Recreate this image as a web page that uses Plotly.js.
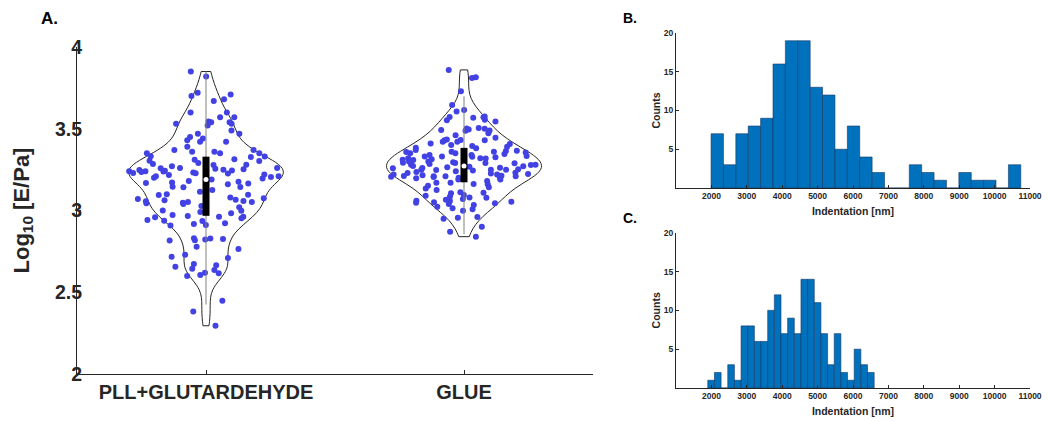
<!DOCTYPE html>
<html>
<head>
<meta charset="utf-8">
<script src="https://cdn.plot.ly/plotly-3.0.1.min.js"></script>
<style>html,body{margin:0;padding:0;background:#fff;}#chart{width:1048px;height:421px;}</style>
</head>
<body>
<div id="chart"></div>
<script>
// ---------- DATA ----------
const categories = ['PLL+GLUTARDEHYDE', 'GLUE'];

// Log10 [E/Pa] values (panel A)
const pllValues = [
  3.85, 3.82, 3.72, 3.71, 3.70, 3.68, 3.67, 3.60, 3.60, 3.57, 3.57, 3.545, 3.54, 3.54, 3.53, 3.53,
  3.52, 3.49, 3.47, 3.47, 3.45, 3.44, 3.43, 3.42, 3.42, 3.39, 3.37, 3.37, 3.36, 3.36, 3.35, 3.35, 3.35,
  3.332, 3.33, 3.327, 3.313, 3.31, 3.305, 3.303, 3.285, 3.28, 3.278,
  3.258, 3.255, 3.252, 3.25, 3.248, 3.245,
  3.243, 3.24, 3.238, 3.235, 3.232, 3.23, 3.228, 3.227,
  3.217, 3.21, 3.205, 3.2, 3.195, 3.176, 3.172, 3.168, 3.165, 3.161,
  3.146, 3.143, 3.142, 3.125, 3.115, 3.097, 3.095,
  3.075, 3.07, 3.066, 3.066, 3.062, 3.058, 3.056, 3.052, 3.052, 3.048, 3.044, 3.04,
  3.028, 3.02, 2.999, 2.991, 2.983, 2.972, 2.966, 2.962, 2.962, 2.958, 2.952,
  2.942, 2.938, 2.936, 2.922, 2.917, 2.911, 2.909,
  2.83, 2.828, 2.826, 2.822, 2.818, 2.817,
  2.779, 2.765, 2.73, 2.717, 2.709, 2.673, 2.665, 2.656, 2.644,
  2.636, 2.62, 2.616, 2.606, 2.60, 2.448, 2.383, 2.295,
  3.29, 3.27, 3.26, 3.22, 3.21, 3.19, 3.18, 3.26, 3.24, 3.10, 3.08, 3.00
];
const glueValues = [
  3.86, 3.815, 3.81, 3.73, 3.645, 3.615, 3.605,
  3.575, 3.572, 3.57, 3.568, 3.555, 3.552, 3.545,
  3.505, 3.502, 3.50, 3.495, 3.492, 3.49, 3.488, 3.472, 3.431,
  3.46, 3.445, 3.435, 3.43, 3.42,
  3.43, 3.42, 3.407, 3.40, 3.39, 3.384, 3.38, 3.41, 3.395,
  3.37, 3.366, 3.364, 3.36, 3.358, 3.354, 3.35, 3.346, 3.34, 3.333, 3.329, 3.325, 3.32, 3.318,
  3.313, 3.309, 3.30, 3.295, 3.292, 3.289, 3.284, 3.28, 3.278, 3.272, 3.268, 3.265, 3.262, 3.258, 3.25, 3.245, 3.235, 3.231,
  3.252, 3.248, 3.227, 3.223, 3.22, 3.217, 3.215, 3.213, 3.211, 3.209, 3.207, 3.205, 3.2, 3.197, 3.19,
  3.17, 3.162, 3.16, 3.152, 3.142, 3.135, 3.125, 3.111, 3.109,
  3.105, 3.095, 3.09, 3.085, 3.08, 3.078, 3.07, 3.065, 3.06, 3.058, 3.054, 3.05, 3.048, 3.044, 3.04, 3.034, 3.023, 3.013, 3.007,
  2.999, 2.955, 2.95, 2.96, 2.90, 2.87, 2.84,
  3.36, 3.35, 3.34, 3.33, 3.32, 3.31, 3.30, 3.29, 3.28, 3.27, 3.26, 3.25, 3.24, 3.23, 3.22, 3.21, 3.20, 3.19, 3.18, 3.17, 3.33, 3.29, 3.25, 3.21
];

// Histogram B (indentation, nm)
const histBStart = 1990, histBWidth = 350;
const histBCounts = [7, 3, 7, 8, 9, 16, 19, 19, 13, 12, 5, 8, 4, 2, 0, 0, 3, 2, 1, 0, 2, 1, 1, 0, 3];
// Histogram C (indentation, nm)
const histCStart = 1898, histCWidth = 188;
const histCCounts = [1, 2, 0, 3, 1, 8, 8, 6, 6, 10, 12, 7, 9, 7, 14, 14, 11, 7, 3, 7, 2, 1, 5, 3, 2];

const histTickVals = [2000, 3000, 4000, 5000, 6000, 7000, 8000, 9000, 10000, 11000];
const histTickText = ['2000', '3000', '4000', '5000', '6000', '7000', '8000', '9000', '10000', '11000'];
const countTickVals = [5, 10, 15, 20];
const logTickVals = [2, 2.5, 3, 3.5, 4];
const logTickText = ['2', '2.5', '3', '3.5', '4'];

// ---------- HELPERS ----------
function quantile(arr, p) {           // MATLAB-style quantile
  const s = arr.slice().sort((a, b) => a - b), n = s.length;
  const pos = n * p + 0.5;            // 1-based
  if (pos <= 1) return s[0];
  if (pos >= n) return s[n - 1];
  const lo = Math.floor(pos), f = pos - lo;
  return s[lo - 1] + f * (s[lo] - s[lo - 1]);
}
function stats(arr) {
  const q1 = quantile(arr, 0.25), med = quantile(arr, 0.5), q3 = quantile(arr, 0.75);
  const iqr = q3 - q1;
  const lo = Math.max(q1 - 1.5 * iqr, Math.min(...arr));
  const hi = Math.min(q3 + 1.5 * iqr, Math.max(...arr));
  return {q1, med, q3, lo, hi};
}
function centers(start, w, n) { return Array.from({length: n}, (_, i) => start + (i + 0.5) * w); }

// ---------- TRACES ----------
const FONT = 'Liberation Sans, Arial, Helvetica, sans-serif';
const TXT = '#262626';
const PT = 'rgb(66,66,228)';
const traces = [];
[pllValues, glueValues].forEach((vals, k) => {
  traces.push({
    type: 'violin', x: vals.map(() => categories[k]), y: vals, name: categories[k],
    xaxis: 'x', yaxis: 'y', points: 'all', pointpos: 0, jitter: 1,
    spanmode: 'hard', scalemode: 'width', width: 0.6, bandwidth: 0.075,
    line: {color: '#262626', width: 1}, fillcolor: 'rgba(255,255,255,0)',
    marker: {color: PT, size: 6, line: {width: 0}},
    box: {visible: false}, meanline: {visible: false}, hoverinfo: 'y'
  });
});
[pllValues, glueValues].forEach((vals, k) => {
  const s = stats(vals);
  traces.push({type: 'scatter', mode: 'lines', x: [categories[k], categories[k]], y: [s.lo, s.hi],
    xaxis: 'x', yaxis: 'y', line: {color: 'rgb(128,128,128)', width: 1}, hoverinfo: 'skip'});
  traces.push({type: 'scatter', mode: 'lines', x: [categories[k], categories[k]], y: [s.q1, s.q3],
    xaxis: 'x', yaxis: 'y', line: {color: '#000', width: 7}, hoverinfo: 'skip'});
  traces.push({type: 'scatter', mode: 'markers', x: [categories[k]], y: [s.med],
    xaxis: 'x', yaxis: 'y', marker: {color: '#fff', size: 5}, hoverinfo: 'y'});
});
const BAR = 'rgb(0,114,189)';
traces.push({type: 'bar', x: centers(histBStart, histBWidth, histBCounts.length), y: histBCounts, width: histBWidth,
  xaxis: 'x2', yaxis: 'y2', marker: {color: BAR, line: {color: 'rgb(20,55,100)', width: 0.6}}});
traces.push({type: 'bar', x: centers(histCStart, histCWidth, histCCounts.length), y: histCCounts, width: histCWidth,
  xaxis: 'x3', yaxis: 'y3', marker: {color: BAR, line: {color: 'rgb(20,55,100)', width: 0.6}}});

// ---------- LAYOUT ----------
const W = 1048, H = 421;
const px = v => v / W, py = v => 1 - v / H;
const axBase = {showline: true, linecolor: TXT, linewidth: 1, ticks: 'inside', tickcolor: TXT,
  showgrid: false, zeroline: false, fixedrange: true};
const histX = (anchor) => Object.assign({}, axBase, {
  anchor: anchor, domain: [px(676), px(1030)], range: [1000, 11000], tickmode: 'array',
  tickvals: histTickVals, ticktext: histTickText,
  ticklen: 3, tickfont: {size: 8.5, family: FONT, color: TXT, weight: 'bold'},
  title: {text: 'Indentation [nm]', font: {size: 10.5, family: FONT, color: TXT, weight: 'bold'}, standoff: 7}
});
const histY = (anchor, dom) => Object.assign({}, axBase, {
  anchor: anchor, domain: dom, range: [0, 20], tickmode: 'array', tickvals: countTickVals,
  ticklen: 3, tickfont: {size: 8.5, family: FONT, color: TXT, weight: 'bold'},
  title: {text: 'Counts', font: {size: 10.5, family: FONT, color: TXT, weight: 'bold'}, standoff: 1}
});

const layout = {
  width: W, height: H, margin: {l: 0, r: 0, t: 0, b: 0},
  paper_bgcolor: '#fff', plot_bgcolor: '#fff', showlegend: false, bargap: 0,
  font: {family: FONT, color: TXT},
  xaxis: Object.assign({}, axBase, {
    anchor: 'y', domain: [px(77), px(593)], type: 'category', range: [-0.5, 1.5], ticklen: 4,
    tickfont: {size: 20, family: FONT, color: TXT, weight: 'bold'}
  }),
  yaxis: Object.assign({}, axBase, {
    anchor: 'x', domain: [py(374), py(47)], range: [2, 4], tickmode: 'array', tickvals: logTickVals, ticktext: logTickText,
    ticklen: 4, ticklabelstandoff: -10, tickfont: {size: 19.5, family: FONT, color: TXT, weight: 'bold'},
    title: {text: 'Log<sub>10</sub> [E/Pa]', font: {size: 22, family: FONT, color: TXT, weight: 'bold'}, standoff: 19}
  }),
  xaxis2: histX('y2'),
  yaxis2: histY('x2', [py(188), py(33)]),
  xaxis3: histX('y3'),
  yaxis3: histY('x3', [py(388), py(232.7)]),
  annotations: [
    {text: 'A.', x: px(39), y: py(18), xref: 'paper', yref: 'paper', xanchor: 'left', yanchor: 'middle', showarrow: false,
     font: {size: 17, family: FONT, color: '#000', weight: 'bold'}},
    {text: 'B.', x: px(621), y: py(18), xref: 'paper', yref: 'paper', xanchor: 'left', yanchor: 'middle', showarrow: false,
     font: {size: 14, family: FONT, color: '#000', weight: 'bold'}},
    {text: 'C.', x: px(621), y: py(218), xref: 'paper', yref: 'paper', xanchor: 'left', yanchor: 'middle', showarrow: false,
     font: {size: 14, family: FONT, color: '#000', weight: 'bold'}}
  ]
};

Plotly.newPlot('chart', traces, layout, {staticPlot: true, displayModeBar: false});
</script>
</body>
</html>
